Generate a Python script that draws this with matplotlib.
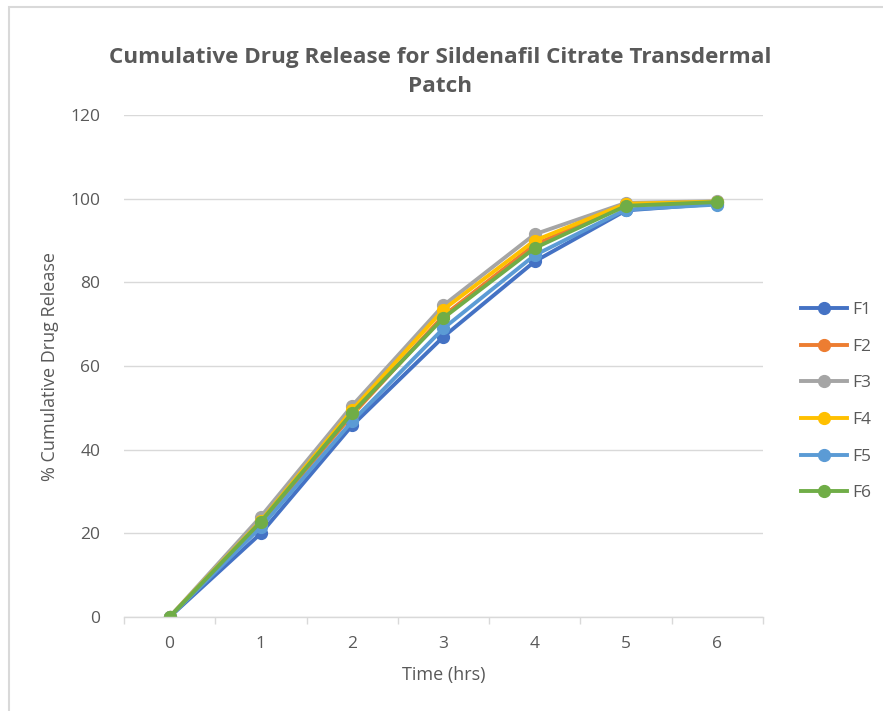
import matplotlib.pyplot as plt
from matplotlib.lines import Line2D

plt.rcParams['font.family'] = ['Open Sans', 'DejaVu Sans']

temps = [0, 1, 2, 3, 4, 5, 6]
formulations = ["F1", "F2", "F3", "F4", "F5", "F6"]
f1 = [0, 20.0, 45.8, 67.0, 85.0, 97.2, 98.8]
f2 = [0, 22.5, 48.3, 72.0, 89.0, 98.5, 99.2]
f3 = [0, 24.0, 50.5, 74.5, 91.5, 99.0, 99.4]
f4 = [0, 23.0, 49.5, 73.5, 90.0, 98.8, 99.3]
f5 = [0, 21.5, 46.8, 69.0, 86.5, 97.4, 98.6]
f6 = [0, 22.8, 48.8, 71.5, 88.2, 98.3, 99.2]
series = [f1, f2, f3, f4, f5, f6]
couleurs = ["#4472C4", "#ED7D31", "#A5A5A5", "#FFC000", "#5B9BD5", "#70AD47"]

gris = "#595959"
fig = plt.figure(figsize=(8.83, 7.11), dpi=100)
ax = fig.add_axes([0.1404, 0.1322, 0.7236, 0.706])

for nom, valeurs, c in zip(formulations, series, couleurs):
    ax.plot(temps, valeurs, color=c, lw=2.8, marker="o", markersize=8.5,
            solid_capstyle="round", label=nom)

ax.set_xlim(-0.5, 6.5)
ax.set_ylim(0, 120)
ax.set_yticks(range(0, 121, 20))
ax.set_xticks(temps)
ax.set_xticks([t - 0.5 for t in temps] + [6.5], minor=True)
ax.grid(True, axis="y", color="#d9d9d9", lw=1)
ax.set_axisbelow(True)
for s in ["top", "right", "left"]:
    ax.spines[s].set_visible(False)
ax.spines["bottom"].set_color("#d9d9d9")
ax.spines["bottom"].set_linewidth(1)
ax.tick_params(axis="x", which="major", length=0, pad=14, labelsize=12.5, labelcolor=gris)
ax.tick_params(axis="x", which="minor", length=5, color="#d9d9d9", width=1)
ax.tick_params(axis="y", length=0, pad=17, labelsize=12.5, labelcolor=gris)

ax.set_xlabel("Time (hrs)", fontsize=13, color=gris, labelpad=10)
ax.set_ylabel("% Cumulative Drug Release", fontsize=13, color=gris, labelpad=8)
fig.text(0.498, 0.899, "Cumulative Drug Release for Sildenafil Citrate Transdermal\nPatch",
         ha="center", va="center", fontsize=16.2, fontweight="bold", color=gris,
         linespacing=1.5)

poignees = [Line2D([], [], color=c, lw=2.8, marker="o", markersize=8.5) for c in couleurs]
fig.legend(poignees, formulations, loc="center left", bbox_to_anchor=(0.889, 0.435),
           frameon=False, fontsize=12.5, labelcolor=gris, handlelength=2.7,
           handletextpad=0.3, labelspacing=1.18)

# cadre du graphique
fig.add_artist(plt.Rectangle((9 / 883, -0.1), 2, 1.1 - 7 / 711, transform=fig.transFigure,
                             fill=False, edgecolor="#d9d9d9", lw=1.5))

fig.savefig("out.png", dpi=100)
